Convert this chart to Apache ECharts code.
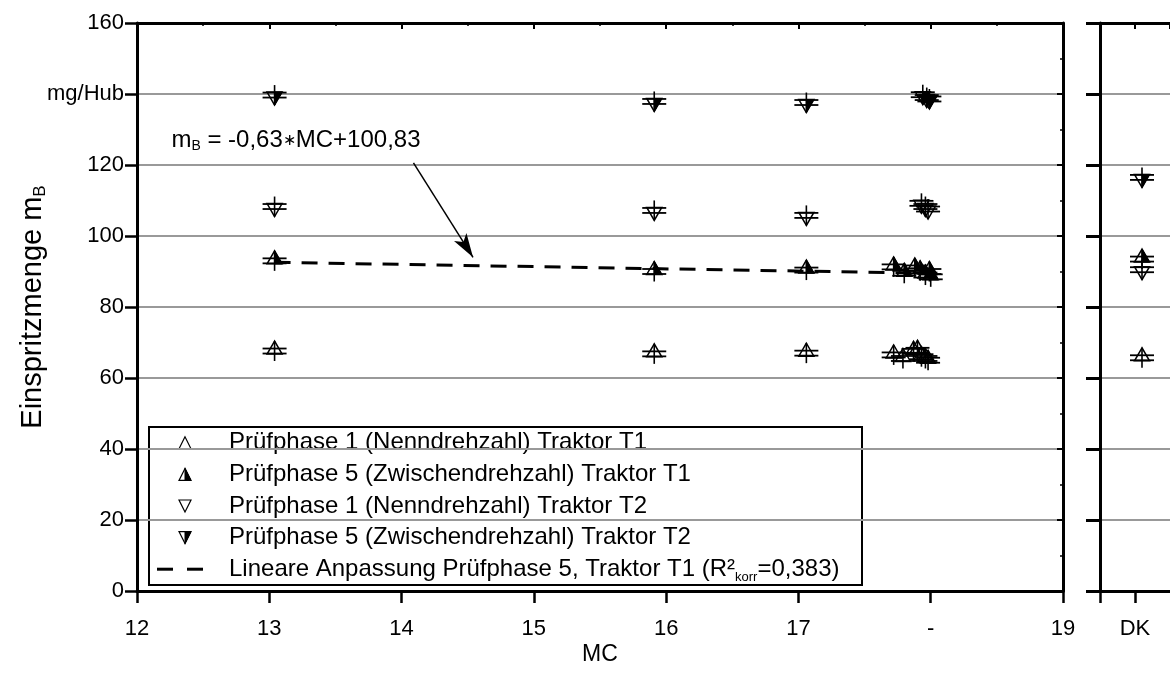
<!DOCTYPE html>
<html>
<head>
<meta charset="utf-8">
<style>
  html, body { margin: 0; height: 100%; background: #fff; }
  #container { width: 1170px; height: 684px; }
</style>
</head>
<body>
<div id="container"></div>
<script src="https://cdn.jsdelivr.net/npm/echarts@6/dist/echarts.min.js"></script>
<script>
// ---- Daten ----
var t1p1X = [13.04, 15.91, 17.06, 17.72, 17.79, 17.87, 17.90, 17.93, 17.96, 17.98];
var t1p1Y = [67.6, 66.8, 67.0, 66.5, 65.5, 67.5, 67.8, 66.0, 65.5, 65.0];
var t1p5X = [13.04, 15.91, 17.06, 17.72, 17.80, 17.88, 17.92, 17.96, 17.99, 18.00];
var t1p5Y = [93.0, 90.0, 90.4, 91.3, 89.5, 91.0, 90.2, 89.0, 90.0, 88.5];
var t2p1X = [13.04, 15.91, 17.06, 17.93, 17.96, 17.98];
var t2p1Y = [108.3, 107.2, 105.8, 109.2, 108.3, 107.6];
var t2p5X = [13.04, 15.91, 17.06, 17.94, 17.97, 17.99];
var t2p5Y = [139.7, 137.9, 137.6, 139.8, 139.0, 138.6];

// DK (Diesel) - rechter Teil
var dkTick = 1;
var dkX = 1.2;
var dkT1P1 = 65.7, dkT1P5 = 93.5, dkT2P1 = 90.5, dkT2P5 = 116.5;

// lineare Anpassung Pruefphase 5, T1 (Endpunkte)
var fitX = [13.04, 18.0];
var fitY = [92.6, 89.5];

var xTicks = [12, 13, 14, 15, 16, 17, 18, 19];
var yTicks = [0, 20, 40, 60, 80, 100, 120, 140, 160];

var FONT = 'Liberation Sans, Arial, Helvetica, sans-serif';

function pairs(xs, ys) {
  return xs.map(function (x, i) { return [x, ys[i]]; });
}

// Symbol mit Fehlerbalken: dir 1 = Dreieck oben, -1 = unten
function makeRender(dir, half) {
  return function (params, api) {
    var p = api.coord([api.value(0), api.value(1)]);
    var x = p[0], y = p[1];
    var tip = y - 10 * dir, base = y + 3 * dir;
    var kids = [
      { type: 'line', shape: { x1: x, y1: y - 10, x2: x, y2: y + 10 }, style: { stroke: '#000', lineWidth: 1.6 } },
      { type: 'line', shape: { x1: x - 12, y1: y - 2.5, x2: x + 12, y2: y - 2.5 }, style: { stroke: '#000', lineWidth: 1.8 } },
      { type: 'line', shape: { x1: x - 12, y1: y + 2.5, x2: x + 12, y2: y + 2.5 }, style: { stroke: '#000', lineWidth: 1.8 } },
      { type: 'polygon', shape: { points: [[x, tip], [x - 7.5, base], [x + 7.5, base]] }, style: { fill: 'none', stroke: '#000', lineWidth: 1.5 } }
    ];
    if (half) {
      kids.push({ type: 'polygon', shape: { points: [[x, tip], [x, base], [x + 7.5, base]] }, style: { fill: '#000', stroke: '#000', lineWidth: 1 } });
    }
    return { type: 'group', children: kids };
  };
}

function markerSeries(name, data, dir, half, gi) {
  return {
    name: name,
    type: 'custom',
    xAxisIndex: gi === 1 ? 2 : 0,
    yAxisIndex: gi === 1 ? 2 : 0,
    renderItem: makeRender(dir, half),
    encode: { x: 0, y: 1 },
    data: data,
    z: 5,
    silent: true
  };
}

var axisLineStyle = { color: '#000', width: 3 };
var labelStyle = { color: '#000', fontSize: 22, fontFamily: FONT };

var dom = document.getElementById('container');
var myChart = echarts.init(dom, null, { renderer: 'canvas' });

var option = {
  backgroundColor: '#fff',
  animation: false,
  grid: [
    { left: 137, top: 23, width: 926, height: 568 },
    { left: 1100, top: 23, width: 70, height: 568 }
  ],
  xAxis: [
    {
      gridIndex: 0, type: 'value', position: 'bottom',
      min: xTicks[0], max: xTicks[xTicks.length - 1], interval: 1,
      axisLine: { onZero: false, lineStyle: axisLineStyle },
      axisTick: { length: 12, lineStyle: { color: '#000', width: 2.5 } },
      splitLine: { show: false },
      axisLabel: Object.assign({ margin: 27, formatter: function (v) { return v === 18 ? '-' : String(v); } }, labelStyle),
      name: 'MC', nameLocation: 'middle', nameGap: 52, nameMoveOverlap: false,
      nameTextStyle: { color: '#000', fontSize: 23, fontFamily: FONT }
    },
    {
      gridIndex: 0, type: 'value', position: 'top',
      min: xTicks[0], max: xTicks[xTicks.length - 1], interval: 1,
      axisLine: { onZero: false, lineStyle: axisLineStyle },
      axisTick: { inside: true, length: 6, lineStyle: { color: '#000', width: 2 } },
      minorTick: { show: true, splitNumber: 2, length: 3, lineStyle: { color: '#000', width: 1.5 } },
      splitLine: { show: false },
      axisLabel: { show: false }
    },
    {
      gridIndex: 1, type: 'value', position: 'bottom',
      min: 0, max: 2, interval: 1,
      axisLine: { onZero: false, lineStyle: axisLineStyle },
      axisTick: { length: 12, lineStyle: { color: '#000', width: 2.5 } },
      splitLine: { show: false },
      axisLabel: Object.assign({ margin: 27, showMaxLabel: false, formatter: function (v) { return v === dkTick ? 'DK' : ''; } }, labelStyle)
    },
    {
      gridIndex: 1, type: 'value', position: 'top',
      min: 0, max: 2, interval: 1,
      axisLine: { onZero: false, lineStyle: axisLineStyle },
      axisTick: { inside: true, length: 6, lineStyle: { color: '#000', width: 2 } },
      splitLine: { show: false },
      axisLabel: { show: false }
    }
  ],
  yAxis: [
    {
      gridIndex: 0, type: 'value', position: 'left',
      min: yTicks[0], max: yTicks[yTicks.length - 1], interval: 20,
      axisLine: { onZero: false, lineStyle: axisLineStyle },
      axisTick: { length: 12, lineStyle: { color: '#000', width: 2.5 } },
      splitLine: { show: true, lineStyle: { color: '#999', width: 2 } },
      axisLabel: Object.assign({ margin: 13, formatter: function (v) { return v === 140 ? 'mg/Hub' : String(v); } }, labelStyle),
      name: 'Einspritzmenge m{sub|B}', nameLocation: 'middle', nameGap: 88, nameRotate: 90,
      nameMoveOverlap: false,
      nameTextStyle: {
        color: '#000', fontSize: 29, fontFamily: FONT,
        rich: { sub: { fontSize: 17, fontFamily: FONT, color: '#000', padding: [15, 0, 0, 0] } }
      }
    },
    {
      gridIndex: 0, type: 'value', position: 'right',
      min: yTicks[0], max: yTicks[yTicks.length - 1], interval: 20,
      axisLine: { onZero: false, lineStyle: axisLineStyle },
      axisTick: { inside: true, length: 6, lineStyle: { color: '#000', width: 2 } },
      minorTick: { show: true, splitNumber: 2, length: 3, lineStyle: { color: '#000', width: 1.5 } },
      splitLine: { show: false },
      axisLabel: { show: false }
    },
    {
      gridIndex: 1, type: 'value', position: 'left',
      min: yTicks[0], max: yTicks[yTicks.length - 1], interval: 20,
      axisLine: { onZero: false, lineStyle: axisLineStyle },
      axisTick: { length: 14, lineStyle: { color: '#000', width: 3 } },
      splitLine: { show: true, lineStyle: { color: '#999', width: 2 } },
      axisLabel: { show: false }
    }
  ],
  series: [
    {
      name: 'fit', type: 'line', xAxisIndex: 0, yAxisIndex: 0,
      data: pairs(fitX, fitY), symbol: 'none', silent: true, z: 4,
      lineStyle: { color: '#000', width: 3, type: [16, 11] },
      markLine: {
        silent: true, symbol: ['none', 'arrow'], symbolSize: [11, 24],
        lineStyle: { color: '#000', width: 1.5, type: 'solid' },
        label: { show: false },
        data: [[{ coord: [14.09, 120.6] }, { coord: [14.54, 94.0] }]]
      },
      markPoint: {
        silent: true, symbol: 'circle', symbolSize: 0,
        itemStyle: { color: 'transparent' },
        label: {
          show: true, position: 'right', distance: 0,
          color: '#000', fontSize: 24, fontFamily: FONT,
          formatter: 'm{sub|B} = -0,63{ast|\u2217}MC+100,83',
          rich: {
            sub: { fontSize: 14, fontFamily: FONT, color: '#000', padding: [12, 0, 0, 0] },
            ast: { fontSize: 16, fontFamily: FONT, color: '#000' }
          }
        },
        data: [{ coord: [12.26, 127.0] }]
      }
    },
    markerSeries('T1P1', pairs(t1p1X, t1p1Y), 1, false, 0),
    markerSeries('T1P5', pairs(t1p5X, t1p5Y), 1, true, 0),
    markerSeries('T2P1', pairs(t2p1X, t2p1Y), -1, false, 0),
    markerSeries('T2P5', pairs(t2p5X, t2p5Y), -1, true, 0),
    markerSeries('DK T1P1', [[dkX, dkT1P1]], 1, false, 1),
    markerSeries('DK T1P5', [[dkX, dkT1P5]], 1, true, 1),
    markerSeries('DK T2P1', [[dkX, dkT2P1]], -1, false, 1),
    markerSeries('DK T2P5', [[dkX, dkT2P5]], -1, true, 1)
  ]
};

// Legende (Kasten unten links)
var legendItems = [
  { sym: 'up', text: 'Prüfphase 1 (Nenndrehzahl) Traktor T1' },
  { sym: 'upHalf', text: 'Prüfphase 5 (Zwischendrehzahl) Traktor T1' },
  { sym: 'down', text: 'Prüfphase 1 (Nenndrehzahl) Traktor T2' },
  { sym: 'downHalf', text: 'Prüfphase 5 (Zwischendrehzahl) Traktor T2' },
  { sym: 'dash', text: 'Lineare Anpassung Prüfphase 5, Traktor T1 (R²{sub|korr}=0,383)' }
];

var lgLeft = 149, lgTop = 427, lgW = 713, lgH = 158, rowH = 31.6;
var lgKids = [{
  type: 'rect', shape: { x: lgLeft, y: lgTop, width: lgW, height: lgH },
  style: { fill: '#fff', stroke: '#000', lineWidth: 2 }
}];
legendItems.forEach(function (it, i) {
  var cy = lgTop + rowH * (i + 0.5);
  var cx = 185;
  if (it.sym === 'dash') {
    lgKids.push({ type: 'line', shape: { x1: cx - 28, y1: cy, x2: cx - 12, y2: cy }, style: { stroke: '#000', lineWidth: 3 } });
    lgKids.push({ type: 'line', shape: { x1: cx + 2, y1: cy, x2: cx + 18, y2: cy }, style: { stroke: '#000', lineWidth: 3 } });
  } else {
    var d = (it.sym === 'up' || it.sym === 'upHalf') ? 1 : -1;
    var tip = cy - 6 * d, base = cy + 6 * d;
    lgKids.push({ type: 'polygon', shape: { points: [[cx, tip], [cx - 6, base], [cx + 6, base]] }, style: { fill: 'none', stroke: '#000', lineWidth: 1.2 } });
    if (it.sym === 'upHalf' || it.sym === 'downHalf') {
      lgKids.push({ type: 'polygon', shape: { points: [[cx, tip], [cx, base], [cx + 6, base]] }, style: { fill: '#000', stroke: '#000', lineWidth: 1 } });
    }
  }
  lgKids.push({
    type: 'text', x: 229, y: cy,
    style: {
      text: it.text, fill: '#000', fontSize: 24, fontFamily: FONT, verticalAlign: 'middle', align: 'left',
      rich: { sub: { fontSize: 13, fontFamily: FONT, fill: '#000', padding: [16, 0, 0, 0] } }
    }
  });
});
option.graphic = [{ type: 'group', z: 100, children: lgKids }];

myChart.setOption(option);
window.addEventListener('resize', myChart.resize);
</script>
</body>
</html>
